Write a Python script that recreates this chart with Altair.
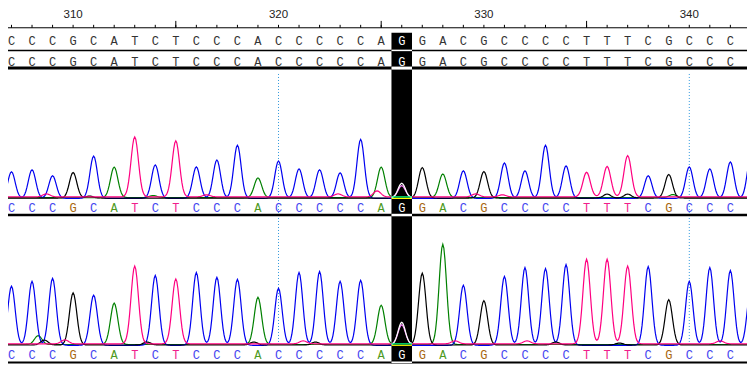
import altair as alt
import numpy as np
import pandas as pd

# ---------------- data ----------------
first_pos = 307
sequence = "CCCGCATCTCCCACCCCCAGGACGCCCCTTTCGCCCC"   # positions 307..343
highlight_pos = 326
last_labelled_pos = 342
tick_labels = [310, 320, 330, 340]
grid_positions = [320, 340]

# primary peak heights (one per base call)
trace1_heights = [27, 29, 23, 26, 43, 31, 61, 34, 57, 32, 39, 54, 20, 38, 30, 29, 26, 60, 31,
                  15, 31, 24, 28, 27, 36, 28, 54, 33, 25, 31, 42, 23, 24, 32, 30, 37, 42]
trace2_heights = [60, 65, 68, 53, 51, 42, 79, 71, 66, 74, 69, 67, 48, 58, 74, 75, 65, 66, 40,
                  23, 73, 102, 61, 45, 70, 79, 78, 82, 86, 86, 79, 80, 46, 65, 79, 76, 58]

# small secondary peaks
trace1_minor_pos = [308.7, 310.8, 316.5, 322.9, 324.8, 326.0, 329.6, 336.0, 337.0, 339.2, 313.9, 330.9]
trace1_minor_base = ["T", "G", "T", "T", "T", "A", "T", "G", "G", "A", "A", "T"]
trace1_minor_h = [3, 2, 2, 3, 6, 12, 3, 4, 4, 3, 2, 2]

trace2_minor_pos = [308.3, 308.6, 309.6, 313.6, 321.8, 321.2, 326.0, 328.6, 332.1, 333.5, 341.5, 318.8, 336.6]
trace2_minor_base = ["A", "G", "T", "G", "G", "T", "A", "T", "T", "G", "T", "G", "G"]
trace2_minor_h = [9, 5, 4, 3, 3, 3, 20, 3, 3, 3, 3, 3, 2]

bases = ["A", "C", "G", "T"]
trace_colors = ["#008000", "#0000f0", "#000000", "#ff0080"]
inverted_colors = ["#ff7fff", "#ffff00", "#ffffff", "#00ff7f"]
letter_colors = ["#4e9a1e", "#4646f0", "#a8660c", "#f0208c"]
baseline_offset = {"A": 0.8, "C": 0.0, "G": 0.3, "T": 1.5}

SIGMA = 0.18
positions = [first_pos + i for i in range(len(sequence))]
xs = np.round(306.6 + np.arange(740) * 0.05, 2)


def build_curves(heights, mpos, mbase, mh):
    rows = []
    for b in bases:
        y = np.full(xs.shape, baseline_offset[b])
        for p, s, h in zip(positions, sequence, heights):
            if s == b:
                y = y + h * np.exp(-0.5 * ((xs - p) / SIGMA) ** 2)
        for p, s, h in zip(mpos, mbase, mh):
            if s == b:
                y = y + h * np.exp(-0.5 * ((xs - p) / SIGMA) ** 2)
        rows.append(pd.DataFrame({"x": xs, "y": y, "base": b}))
    return pd.concat(rows, ignore_index=True)


curves1 = build_curves(trace1_heights, trace1_minor_pos, trace1_minor_base, trace1_minor_h)
curves2 = build_curves(trace2_heights, trace2_minor_pos, trace2_minor_base, trace2_minor_h)
lo, hi = highlight_pos - 0.5, highlight_pos + 0.5
inv1 = curves1[(curves1.x >= lo - 1e-6) & (curves1.x <= hi + 1e-6)]
inv2 = curves2[(curves2.x >= lo - 1e-6) & (curves2.x <= hi + 1e-6)]

seq_df = pd.DataFrame({"pos": positions, "base": list(sequence)})
seq_df = seq_df[seq_df.pos <= last_labelled_pos]
tick_df = pd.DataFrame({"pos": [p for p in positions if p <= last_labelled_pos]})
label_df = pd.DataFrame({"pos": tick_labels, "label": [str(t) for t in tick_labels]})
grid_df = pd.DataFrame({"pos": grid_positions})
hl_df = pd.DataFrame({"pos": [highlight_pos]})
one = pd.DataFrame({"a": [0]})

# ---------------- layout ----------------
W, H = 739, 356
K = 0.983


def Y(ref):
    """vertical layout position (in chart pixels)"""
    return 7 + (ref - 16) * K


xscale = alt.Scale(domain=[306.83, 342.81], nice=False, zero=False)
X = lambda f: alt.X(f, scale=xscale, axis=None)

HDR_LINE, ROW_LINE, THICK_LINE = Y(29), Y(52), Y(70)
P1_BASE, P2_BASE = Y(202.5), Y(352)
P1_LINE, P2_LINE = Y(219.5), Y(369.5)


def hrule(y, w):
    return alt.Chart(one).mark_rule(color="black", strokeWidth=w).encode(
        x=alt.value(0), x2=alt.value(W), y=alt.value(y))


def hl_rule(y, w):
    return alt.Chart(hl_df).mark_rule(color="white", strokeWidth=w).transform_calculate(
        lo="datum.pos - 0.5", hi="datum.pos + 0.5").encode(
        x=X("lo:Q"), x2="hi:Q", y=alt.value(y))


def trace(df, base_y, colors, width=1.2):
    return alt.Chart(df).mark_line(strokeWidth=width, clip=True).encode(
        x=X("x:Q"),
        y=alt.Y("y:Q", scale=alt.Scale(domain=[0, 100], range=[base_y, base_y - 100 * K]), axis=None),
        color=alt.Color("base:N", scale=alt.Scale(domain=bases, range=colors), legend=None),
    )


def letters_row(y, colored):
    if colored:
        col = alt.condition(alt.datum.pos == highlight_pos, alt.value("white"),
                            alt.Color("base:N", scale=alt.Scale(domain=bases, range=letter_colors), legend=None))
    else:
        col = alt.condition(alt.datum.pos == highlight_pos, alt.value("white"), alt.value("#333333"))
    return alt.Chart(seq_df).mark_text(font="Liberation Mono", fontSize=12, baseline="middle",
                                       align="center").encode(
        x=X("pos:Q"), y=alt.value(y), text="base:N", color=col)


grid = alt.Chart(grid_df).mark_rule(color="#3399dd", strokeWidth=1, strokeDash=[1, 2]).encode(
    x=X("pos:Q"), y=alt.value(Y(76)), y2=alt.value(Y(352)))

minor_ticks = alt.Chart(tick_df).mark_rule(color="black", strokeWidth=1).encode(
    x=X("pos:Q"), y=alt.value(Y(26)), y2=alt.value(HDR_LINE))
major_ticks = alt.Chart(tick_df).transform_filter("datum.pos % 10 == 5").mark_rule(
    color="black", strokeWidth=1).encode(x=X("pos:Q"), y=alt.value(Y(22)), y2=alt.value(HDR_LINE))
labels = alt.Chart(label_df).mark_text(font="Liberation Sans", fontSize=11.5, color="#222222",
                                        baseline="middle", align="center").encode(
    x=X("pos:Q"), y=alt.value(Y(16)), text="label:N")

box = alt.Chart(hl_df).mark_rect(color="black").transform_calculate(
    lo="datum.pos - 0.5", hi="datum.pos + 0.5").encode(
    x=X("lo:Q"), x2="hi:Q", y=alt.value(Y(34)), y2=alt.value(H))

chart = alt.layer(
    grid,
    trace(curves1, P1_BASE, trace_colors),
    trace(curves2, P2_BASE, trace_colors),
    hrule(HDR_LINE, 1), hrule(ROW_LINE, 1.5), hrule(THICK_LINE, 3),
    hrule(P1_LINE, 2.5), hrule(P2_LINE, 2),
    minor_ticks, major_ticks, labels,
    box,
    hl_rule(ROW_LINE, 1.5), hl_rule(THICK_LINE, 3), hl_rule(P1_LINE, 2.5), hl_rule(P2_LINE, 2),
    trace(inv1, P1_BASE, inverted_colors),
    trace(inv2, P2_BASE, inverted_colors),
    letters_row(Y(42), False), letters_row(Y(63.5), False),
    letters_row(Y(212), True), letters_row(Y(362), True),
).resolve_scale(y="independent", color="independent").properties(
    width=W, height=H, autosize=alt.AutoSizeParams(type="none"), padding=0,
    background="white",
).configure_view(stroke=None)

chart.save("out.html", embed_options={"renderer": "svg", "actions": False})
